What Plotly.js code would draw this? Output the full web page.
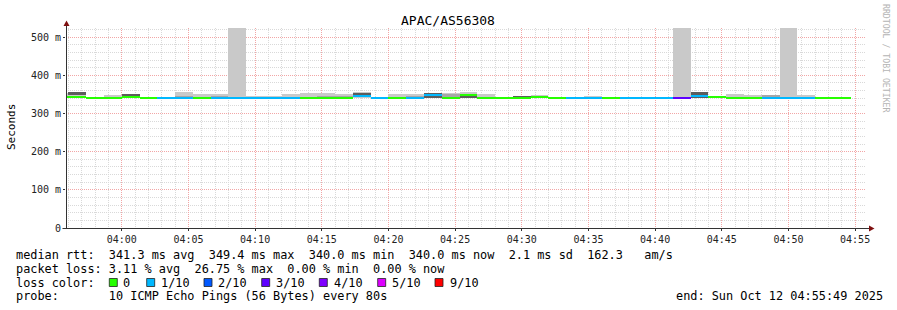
<!DOCTYPE html>
<html><head><meta charset="utf-8">
<script src="https://cdn.plot.ly/plotly-3.0.1.min.js"></script>
<style>html,body{margin:0;padding:0;background:#fff;} #chart{width:897px;height:310px;}</style>
</head><body><div id="chart"></div>
<script>
// ---- data (80 s steps, start time of each step) ----
const stepStart = [
 '2025-10-12 03:54:40','2025-10-12 03:56:00','2025-10-12 03:57:20','2025-10-12 03:58:40',
 '2025-10-12 04:00:00','2025-10-12 04:01:20','2025-10-12 04:02:40','2025-10-12 04:04:00',
 '2025-10-12 04:05:20','2025-10-12 04:06:40','2025-10-12 04:08:00','2025-10-12 04:09:20',
 '2025-10-12 04:10:40','2025-10-12 04:12:00','2025-10-12 04:13:20','2025-10-12 04:14:40',
 '2025-10-12 04:16:00','2025-10-12 04:17:20','2025-10-12 04:18:40','2025-10-12 04:20:00',
 '2025-10-12 04:21:20','2025-10-12 04:22:40','2025-10-12 04:24:00','2025-10-12 04:25:20',
 '2025-10-12 04:26:40','2025-10-12 04:28:00','2025-10-12 04:29:20','2025-10-12 04:30:40',
 '2025-10-12 04:32:00','2025-10-12 04:33:20','2025-10-12 04:34:40','2025-10-12 04:36:00',
 '2025-10-12 04:37:20','2025-10-12 04:38:40','2025-10-12 04:40:00','2025-10-12 04:41:20',
 '2025-10-12 04:42:40','2025-10-12 04:44:00','2025-10-12 04:45:20','2025-10-12 04:46:40',
 '2025-10-12 04:48:00','2025-10-12 04:49:20','2025-10-12 04:50:40','2025-10-12 04:52:00',
 '2025-10-12 04:53:20'
];
// median rtt per step (ms)
const medianMs = [
 342.5,342.6,340,340, 342,340,340,340, 340,340,340,340,
 340,340,340,340, 340,346,340,340, 340,347.5,341,349.4,
 340,340,340,342, 340,340,340,340, 340,340,340,340,
 346,342,340,340, 340,340,340,340, 340
];
// loss colour bucket per step (index into lossColors)
const lossBucket = [
 0,0,0,0, 0,0,1,1, 0,1,1,1,
 1,1,0,0, 0,1,1,0, 1,1,0,0,
 0,0,0,0, 0,1,1,0, 1,1,1,3,
 1,0,0,0, 1,1,1,0, 0
];
// smoke: outer (light), middle and inner (dark) ping ranges (ms)
const lightLo = [
 340,340,null,340, 340,null,null,340, 340,340,340,340,
 340,340,340,340, 340,340,null,340, 340,340,340,340,
 340,null,null,340, null,null,340,340, 340,null,null,340,
 340,340,340,340, null,340,340,null, null
];
const lightHi = [
 354,356,null,348, 350,null,null,355.5, 351,352,524,346,
 346,350,355,353, 352,356,null,352, 352,354,355,357,
 351,null,null,348, null,null,346,344, 344,null,null,524,
 356,344,351,348, null,524,348,null, null
];
const midLo = [
 null,null,null,null, null,null,null,340, null,340,null,null,
 null,null,null,340, 340,null,null,null, 340,null,340,null,
 null,null,null,null, null,null,null,null, null,null,null,null,
 null,null,null,null, 340,null,null,null, null
];
const midHi = [
 null,null,null,null, null,null,null,347, null,347,null,null,
 null,null,null,347, 346,null,null,null, 346,null,350,null,
 null,null,null,null, null,null,null,null, null,null,null,null,
 null,null,null,null, 348,null,null,null, null
];
const darkLo = [
 null,348,null,null, 343,null,null,null, null,null,null,null,
 null,null,null,null, null,349,null,null, null,341,null,340,
 null,null,341,null, null,null,null,null, null,null,null,null,
 341,null,null,null, null,null,null,null, null
];
const darkHi = [
 null,355.5,null,null, 350,null,null,null, null,null,null,null,
 null,null,null,null, null,355,null,null, null,354,null,348,
 null,null,346,null, null,null,null,null, null,null,null,null,
 356,null,null,null, null,null,null,null, null
];
const lossColors = ['#26ff00','#00b8ff','#0059ff','#5e00ff','#7e00ff','#dd00ff','#ff0000'];
const lossLabels = ['0','1/10','2/10','3/10','4/10','5/10','9/10'];
const yTickVals = [0,100,200,300,400,500];
const yTickText = ['0','100 m','200 m','300 m','400 m','500 m'];
const statsRtt = 'median rtt:  341.3 ms avg  349.4 ms max  340.0 ms min  340.0 ms now  2.1 ms sd  162.3   am/s';
const statsLoss = 'packet loss: 3.11 % avg  26.75 % max  0.00 % min  0.00 % now';
const probeText = 'probe:       10 ICMP Echo Pings (56 Bytes) every 80s';
const endText = 'end: Sun Oct 12 04:55:49 2025';
const titleText = 'APAC/AS56308';

// ---- geometry / style ----
const W = 897, H = 310, L = 66, R = 31, T = 28, B = 82;
const PW = W - L - R, PH = H - T - B;
const Y_MAX = 524;
const STEP_MS = 80000;
const MONO = 'DejaVu Sans Mono';
const pxX = px => (px - L) / PW;
const pxY = py => (H - B - py) / PH;
const NB = s => s.replace(/ /g, '\u00a0');

function band(lo, hi, color) {
  return {
    type: 'bar', x: stepStart, base: lo.map(v => v),
    y: lo.map((v, i) => (v == null || hi[i] == null) ? null : hi[i] - v),
    offset: 0, width: STEP_MS,
    marker: {color: color, line: {width: 0}},
    hoverinfo: 'skip'
  };
}
const medHalf = 1.0 * Y_MAX / PH; // 1 px in data units (line 2 px thick)
const traces = [
  band(lightLo, lightHi, '#c9c9c9'),
  band(midLo, midHi, '#a6a6a6'),
  band(darkLo, darkHi, '#5c5c5c'),
  {
    type: 'bar', x: stepStart,
    base: medianMs.map(v => v - medHalf),
    y: medianMs.map(() => 2 * medHalf),
    offset: 0, width: STEP_MS,
    marker: {color: lossBucket.map(b => lossColors[b]), line: {width: 0}},
    hoverinfo: 'skip'
  }
];

const annotations = [];
function ann(text, px, py, o) {
  annotations.push(Object.assign({
    text: NB(text), xref: 'paper', yref: 'paper', x: pxX(px), y: pxY(py),
    xanchor: 'left', yanchor: 'middle', showarrow: false,
    font: {family: MONO, size: 11.86, color: '#000'}
  }, o || {}));
}
ann(statsRtt, 13.5, 254.5);
ann(statsLoss, 13.5, 268.5);
ann('loss color:', 13.5, 282.5);
ann(probeText, 13.5, 296);
ann(endText, 885, 296, {xanchor: 'right'});
ann('Seconds', 11, 127, {xanchor: 'center', textangle: -90, font: {family: MONO, size: 11, color: '#000'}});
ann('RRDTOOL / TOBI OETIKER', 886, 59, {xanchor: 'center', textangle: 90, font: {family: MONO, size: 8.2, color: '#b4b4b4'}});

const boxLeft = [109.3, 146.7, 204, 261.7, 319.3, 377.7, 435];
const labelLeft = [121, 158.7, 216.3, 274, 332, 389.7, 448];
const shapes = [];
lossColors.forEach((c, i) => {
  shapes.push({type: 'rect', xref: 'paper', yref: 'paper',
    x0: pxX(boxLeft[i]), x1: pxX(boxLeft[i] + 8), y0: pxY(278.5), y1: pxY(286.5),
    fillcolor: c, line: {color: '#222', width: 0.8}});
  ann(lossLabels[i], labelLeft[i], 282.5);
});
// axis extensions and arrowheads
shapes.push({type: 'line', xref: 'paper', yref: 'paper', x0: pxX(66.5), x1: pxX(66.5), y0: pxY(228), y1: pxY(23), line: {color: '#333', width: 1}});
shapes.push({type: 'line', xref: 'paper', yref: 'paper', x0: pxX(62.5), x1: pxX(870), y0: pxY(228.5), y1: pxY(228.5), line: {color: '#333', width: 1}});
shapes.push({type: 'path', xref: 'paper', yref: 'paper',
  path: `M ${pxX(66.5)} ${pxY(20.5)} L ${pxX(63.5)} ${pxY(26)} L ${pxX(69.5)} ${pxY(26)} Z`,
  fillcolor: '#7f1010', line: {width: 0}});
shapes.push({type: 'path', xref: 'paper', yref: 'paper',
  path: `M ${pxX(874.5)} ${pxY(228.5)} L ${pxX(869)} ${pxY(225.5)} L ${pxX(869)} ${pxY(231.5)} Z`,
  fillcolor: '#7f1010', line: {width: 0}});

const layout = {
  width: W, height: H,
  margin: {l: L, r: R, t: T, b: B, pad: 0},
  paper_bgcolor: '#ffffff', plot_bgcolor: '#ffffff',
  showlegend: false, barmode: 'overlay', bargap: 0,
  title: {text: titleText, xref: 'container', yref: 'container', x: 448 / W, y: 1 - 20 / H,
    xanchor: 'center', yanchor: 'middle', font: {family: MONO, size: 13, color: '#000'}},
  xaxis: {
    type: 'date', range: ['2025-10-12 03:55:49', '2025-10-12 04:55:49'],
    tickmode: 'linear', tick0: '2025-10-12 04:00:00', dtick: 300000, tickformat: '%H:%M',
    showgrid: true, gridcolor: '#f2a6a6', griddash: '1px,1px', gridwidth: 1,
    minor: {tickmode: 'linear', tick0: '2025-10-12 04:00:00', dtick: 60000, showgrid: true,
      gridcolor: '#d9d9d9', griddash: '1px,1px', gridwidth: 1, ticks: ''},
    showline: false, zeroline: false, ticks: 'outside', ticklen: 2, tickcolor: '#333',
    tickfont: {family: MONO, size: 10, color: '#222'}, fixedrange: true
  },
  yaxis: {
    range: [0, Y_MAX], tickmode: 'array', tickvals: yTickVals, ticktext: yTickText,
    showgrid: true, gridcolor: '#f2a6a6', griddash: '1px,1px', gridwidth: 1,
    minor: {tickmode: 'linear', tick0: 0, dtick: 20, showgrid: true,
      gridcolor: '#d9d9d9', griddash: '1px,1px', gridwidth: 1, ticks: ''},
    showline: false, zeroline: false, ticks: 'outside', ticklen: 2, tickcolor: '#333',
    tickfont: {family: MONO, size: 10, color: '#222'}, fixedrange: true
  },
  shapes: shapes, annotations: annotations
};
Plotly.newPlot('chart', traces, layout, {staticPlot: true, displayModeBar: false});
</script>
</body></html>
